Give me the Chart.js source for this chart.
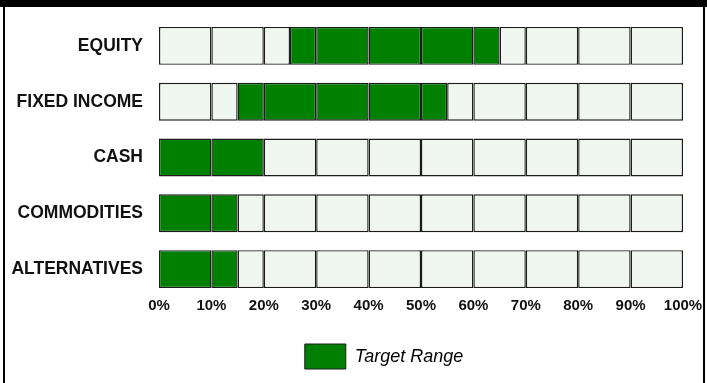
<!DOCTYPE html>
<html>
<head>
<meta charset="utf-8">
<script src="https://cdn.jsdelivr.net/npm/chart.js@4/dist/chart.umd.min.js"></script>
<style>
  html, body { margin: 0; padding: 0; background: #fff; }
  #topbar { position: absolute; left: 0; top: 0; width: 707px; height: 7px; background: #000; }
  #frame { position: absolute; left: 3px; top: 0; width: 702px; height: 390px; box-sizing: border-box;
           border-left: 2px solid #000; border-right: 2px solid #000; }
  #wrap { position: absolute; left: 5px; top: 7px; width: 698px; height: 376px; }
</style>
</head>
<body>
<div id="frame"></div>
<div id="topbar"></div>
<div id="wrap"><canvas id="allocChart"></canvas></div>
<script>
const categories = ['EQUITY', 'FIXED INCOME', 'CASH', 'COMMODITIES', 'ALTERNATIVES'];
const rangeLow = [25, 15, 0, 0, 0];
const rangeHigh = [65, 55, 20, 15, 15];
const tickValues = [0, 10, 20, 30, 40, 50, 60, 70, 80, 90, 100];

const GREEN = '#008000';
const LIGHT = '#f0f7f0';
const EDGE = '#1c1c1c';

Chart.defaults.font.family = '"Liberation Sans", Arial, Helvetica, sans-serif';
Chart.defaults.color = '#111';

// split each bar into 10% cells, also cut at the ends of the target range
const segments = categories.map((c, i) => {
    const cuts = Array.from(new Set(tickValues.concat([rangeLow[i], rangeHigh[i]]))).sort((a, b) => a - b);
    const segs = [];
    for (let k = 0; k < cuts.length - 1; k++) {
        segs.push([cuts[k], cuts[k + 1]]);
    }
    return segs;
});
const maxSegs = Math.max(...segments.map(s => s.length));

const datasets = [];
for (let k = 0; k < maxSegs; k++) {
    datasets.push({
        label: 'seg' + k,
        data: segments.map(s => s[k] || null),
        grouped: false,
        backgroundColor: ctx => {
            const seg = segments[ctx.dataIndex][k];
            if (!seg) return LIGHT;
            const i = ctx.dataIndex;
            return (seg[0] >= rangeLow[i] && seg[1] <= rangeHigh[i]) ? GREEN : LIGHT;
        },
        borderColor: EDGE,
        borderWidth: 1.4,
        borderSkipped: false,
        inflateAmount: 0,
        barPercentage: 0.68,
        categoryPercentage: 1
    });
}

// legend sits a bit right of the canvas centre in the original
const legendShift = {
    id: 'legendShift',
    afterLayout(chart) {
        chart.legend.left += 37;
        chart.legend.right += 37;
    }
};

const ctx = document.getElementById('allocChart').getContext('2d');
new Chart(ctx, {
    type: 'bar',
    data: { labels: categories, datasets: datasets },
    plugins: [legendShift],
    options: {
        indexAxis: 'y',
        responsive: true,
        maintainAspectRatio: false,
        animation: false,
        layout: { padding: { left: 6, right: 20, top: 11, bottom: 4 } },
        scales: {
            x: {
                min: 0,
                max: 100,
                grid: { display: false, drawTicks: false },
                border: { display: false },
                afterBuildTicks: scale => {
                    scale.ticks = tickValues.map(v => ({ value: v }));
                },
                ticks: {
                    padding: 0,
                    font: { size: 15, weight: 'bold' },
                    callback: v => v + '%'
                }
            },
            y: {
                grid: { display: false, drawTicks: false },
                border: { display: false },
                afterFit: scale => {
                    scale.width = 148;
                    scale.paddingTop = 0;
                    scale.paddingBottom = 0;
                },
                ticks: {
                    padding: 16,
                    font: { size: 17.5, weight: 'bold' }
                }
            }
        },
        plugins: {
            tooltip: { enabled: false },
            legend: {
                position: 'bottom',
                onClick: null,
                labels: {
                    boxWidth: 41,
                    boxHeight: 25,
                    padding: 29,
                    font: { size: 18, style: 'italic' },
                    generateLabels: () => [{
                        text: 'Target Range',
                        fillStyle: GREEN,
                        strokeStyle: EDGE,
                        lineWidth: 1,
                        hidden: false,
                        datasetIndex: 0
                    }]
                }
            }
        }
    }
});
</script>
</body>
</html>
